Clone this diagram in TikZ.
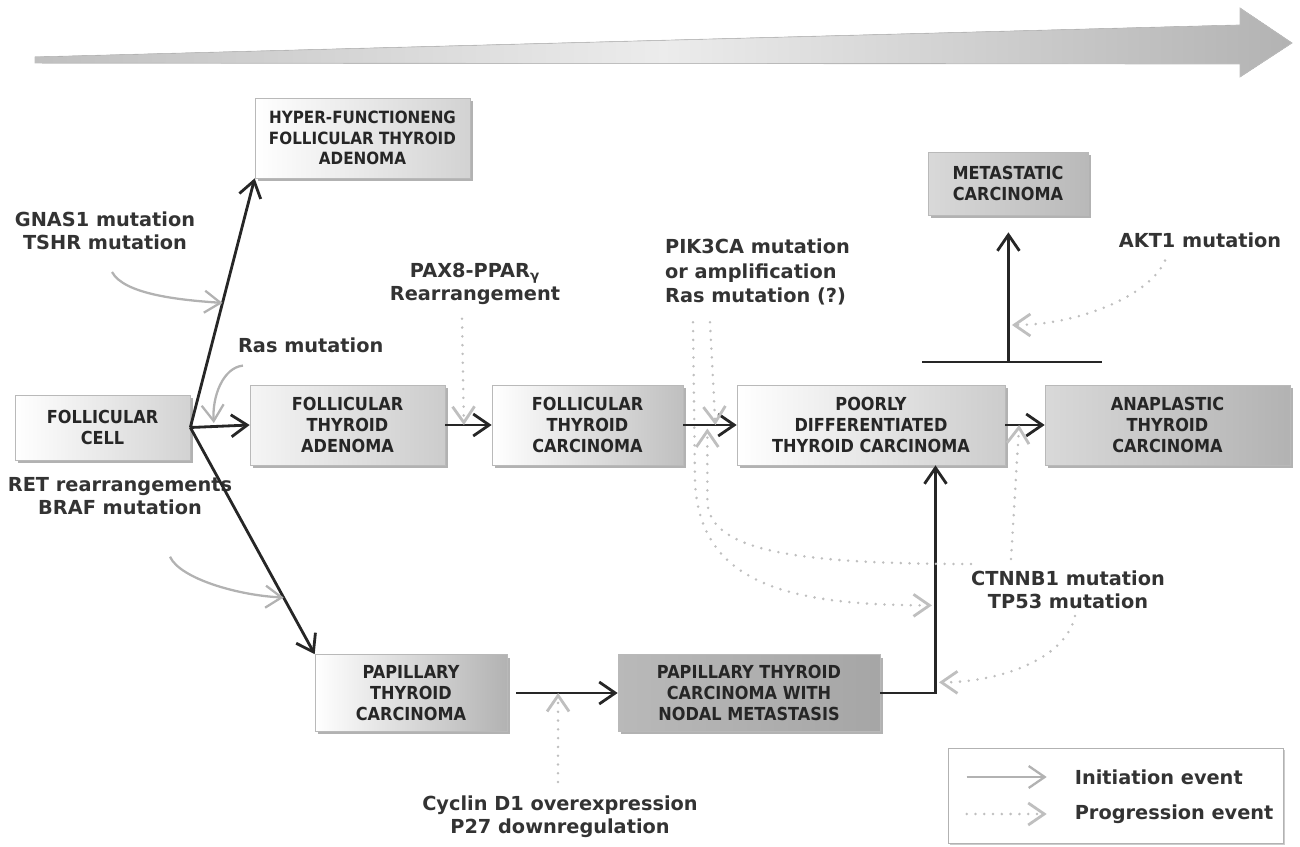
\documentclass[tikz,border=0pt]{standalone}
\usepackage{fontspec}
\setmainfont{DejaVu Sans}
\newfontfamily\boxfont[FakeStretch=0.9]{DejaVu Sans}
\usetikzlibrary{positioning,calc,arrows.meta,shadows}

\begin{document}
\begin{tikzpicture}[
  x=0.02cm, y=-0.02cm,
  >={Straight Barb[length=3.2mm,width=4.4mm]},
  stage/.style={
    rectangle,
    draw=gray!55,
    align=center,
    inner sep=0pt,
    minimum height=1.6cm,
    text=black!85,
    font=\boxfont\bfseries\fontsize{10.2}{11.8}\selectfont,
    drop shadow={shadow xshift=0.6mm,shadow yshift=-0.6mm,fill=black!60,opacity=0.5}
  },
  note/.style={
    align=center,
    inner sep=1pt,
    text=black!80,
    font=\bfseries\fontsize{11}{13}\selectfont
  },
  initiation/.style={
    ->,
    line width=1.6pt,
    draw=black!85
  },
  trigger/.style={
    ->,
    line width=1.3pt,
    draw=gray!60
  },
  progression/.style={
    ->,
    line width=1.6pt,
    draw=gray!50,
    line cap=round,
    dash pattern=on 0pt off 5pt
  }]
  \useasboundingbox (0,0) rectangle (1300,847);
  % time arrow
  \filldraw[draw=gray!50, left color=gray!50, right color=gray!60, middle color=gray!15]
    (35,57) -- (1240,25) -- (1240,8) -- (1292,43) -- (1240,77) -- (1240,64) -- (35,63) -- cycle;
  % level 1
  \node[stage, minimum width=4.3cm, left color=white, right color=gray!35,
    font=\boxfont\bfseries\fontsize{9.6}{11.6}\selectfont] (hyper) at (362.5,138)
    {HYPER-FUNCTIONENG\\FOLLICULAR THYROID\\ADENOMA};
  \node[stage, minimum width=3.2cm, minimum height=1.26cm, left color=gray!30, right color=gray!55] (meta) at (1008,183.5)
    {METASTATIC\\CARCINOMA};
  % level 2
  \node[stage, minimum width=3.5cm, minimum height=1.3cm, left color=white, right color=gray!35] (fcell) at (102.5,427.5)
    {FOLLICULAR\\CELL};
  \node[stage, minimum width=3.9cm, left color=gray!8, right color=gray!40] (fta) at (347.5,425)
    {FOLLICULAR\\THYROID\\ADENOMA};
  \node[stage, minimum width=3.82cm, left color=white, right color=gray!50] (ftc) at (587.5,425)
    {FOLLICULAR\\THYROID\\CARCINOMA};
  \node[stage, minimum width=5.36cm, left color=white, right color=gray!40] (pdtc) at (871,425)
    {POORLY\\DIFFERENTIATED\\THYROID CARCINOMA};
  \node[stage, minimum width=4.9cm, left color=gray!30, right color=gray!60] (atc) at (1167.5,425)
    {ANAPLASTIC\\THYROID\\CARCINOMA};
  % level 3
  \node[stage, minimum width=3.84cm, minimum height=1.54cm, left color=white, right color=gray!60] (ptc) at (411,693)
    {PAPILLARY\\THYROID\\CARCINOMA};
  \node[stage, minimum width=5.24cm, minimum height=1.54cm, left color=gray!55, right color=gray!70] (nodal) at (749,693)
    {PAPILLARY THYROID\\CARCINOMA WITH\\NODAL METASTASIS};
  % genetic events
  \node[note] (gnas) at (105,231) {GNAS1 mutation\\TSHR mutation};
  \node[note, anchor=west] (ras) at (236,345) {Ras mutation};
  \node[note] (pax) at (475,284) {PAX8-PPAR\textsubscript{γ}\\Rearrangement};
  \node[note, align=left, anchor=west, font=\bfseries\fontsize{11}{14}\selectfont] (pik) at (663,272)
    {PIK3CA mutation\\or amplification\\Ras mutation (?)};
  \node[note] (akt) at (1200,240) {AKT1 mutation};
  \node[note] (ret) at (120,496) {RET rearrangements\\BRAF mutation};
  \node[note] (ctnnb) at (1068,590) {CTNNB1 mutation\\TP53 mutation};
  \node[note] (cyclin) at (560,817) {Cyclin D1 overexpression\\P27 downregulation};
  % legend
  \node[draw=gray!60, fill=white, minimum width=6.7cm, minimum height=1.9cm,
    drop shadow={shadow xshift=0.4mm,shadow yshift=-0.4mm,fill=black!40,opacity=0.5}] (legend) at (1115.5,795.5) {};
  \coordinate (initA) at ($(legend.west)+(19,-18.5)$);
  \coordinate (initB) at ($(legend.west)+(99,-18.5)$);
  \coordinate (progA) at ($(legend.west)+(19,18.5)$);
  \coordinate (progB) at ($(legend.west)+(99,18.5)$);
  \node[note, anchor=west] (initlabel) at ($(legend.west)+(125,-18.5)$) {Initiation event};
  \node[note, anchor=west] (proglabel) at ($(legend.west)+(125,18.5)$) {Progression event};
  \draw[trigger] (initA) -- (initB);
  \draw[progression] (progA) -- (progB);
  % initiation arrows
  \coordinate (split) at (fcell.east);
  \draw[initiation] (split) -- coordinate[pos=0.5] (uphit) (hyper.south west);
  \draw[initiation] (split) -- coordinate[pos=0.4] (rashit) (fta.west);
  \draw[initiation] (split) -- coordinate[pos=0.75] (downhit) (ptc.north west);
  \draw[initiation] (fta) -- coordinate[pos=0.4] (paxhit) (ftc);
  \draw[initiation] (ftc) -- coordinate[pos=0.6] (pikhit) coordinate[pos=0.45] (ctnhitA) (pdtc);
  \draw[initiation] (pdtc) -- coordinate[pos=0.35] (ctnhitB) (atc);
  \draw[initiation, shorten <=1.8mm] (ptc) -- coordinate[pos=0.46] (cychit) (nodal);
  \coordinate (pdtcin) at ($(pdtc.south west)!0.74!(pdtc.south east)$);
  \draw[initiation] (nodal.east) -| (pdtcin);
  \coordinate (pikhitB) at ($(pdtcin)+(0,140)$);
  \coordinate (ctnhitC) at ($(pdtcin)+(0,217)$);
  % metastasis
  \coordinate (tleft) at (922,362);
  \coordinate (tright) at (1102,362);
  \draw[line width=1.6pt, black!85] (tleft) -- coordinate[pos=0.48] (tmid) (tright);
  \draw[initiation, shorten >=3.4mm] (tmid) -- (tmid |- meta.south);
  \coordinate (akthit) at ($(tmid)+(0,-37)$);
  % trigger curves
  \draw[trigger] ($(gnas.south)+(7,20)$) .. controls +(12,22) and +(-45,-3) .. (uphit);
  \draw[trigger, shorten >=2pt] ($(ras.south west)+(7,11)$) .. controls +(-20,2) and +(-2,-30) .. (rashit);
  \draw[trigger] ($(ret.south)+(50,40)$) .. controls +(10,22) and +(-45,-2) .. (downhit);
  % progression events
  \draw[progression] ($(pax.south)+(-13,12)$) -- (paxhit);
  \draw[progression] ($(pik.south west)+(47,15)$) -- (pikhit);
  \draw[progression, shorten >=2pt] ($(pik.south west)+(30,15)$) -- ++(2,160) .. controls +(5,100) and +(-150,0) .. (pikhitB);
  \draw[progression, shorten >=2pt] ($(ctnnb.north west)+(2,-5)$) .. controls +(-180,0) and +(0,50) .. ($(ctnhitA)+(0,75)$) -- (ctnhitA);
  \draw[progression] ($(ctnnb.north west)+(42,-10)$) -- (ctnhitB);
  \draw[progression, shorten >=2pt] ($(ctnnb.south)+(7,5)$) .. controls +(-10,45) and +(60,0) .. (ctnhitC);
  \draw[progression, shorten >=2pt] ($(akt.south)+(-35,11)$) .. controls +(-15,35) and +(70,0) .. (akthit);
  \draw[progression] ($(cyclin.north)+(-2,-12)$) -- (cychit);
\end{tikzpicture}
\end{document}
